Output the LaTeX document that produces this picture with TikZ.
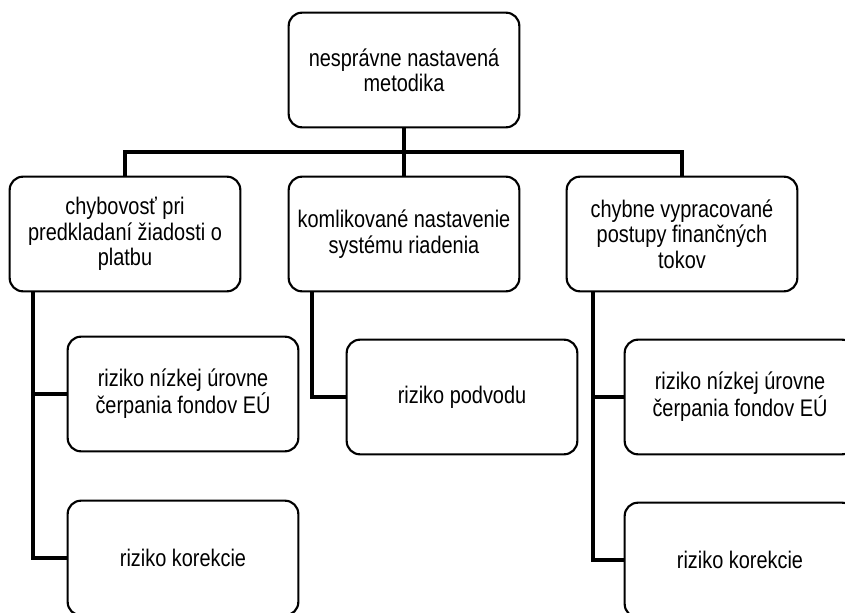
\documentclass[tikz,border=0pt]{standalone}
\usepackage{fontspec}
\setmainfont{Liberation Sans}[FakeStretch=0.83]
\usepackage{tikz}
\usetikzlibrary{calc}

\begin{document}
\begin{tikzpicture}[x=0.75pt,y=-0.75pt,
  uzol/.style={draw,line width=1.6pt,rounded corners=10pt,align=center,
    minimum width=173pt,minimum height=86pt,inner sep=0pt,
    font=\fontsize{18}{19}\selectfont},
  spoj/.style={line width=2.8pt,line cap=rect}]
  \clip (0,0) rectangle (845,613);
  \node[uzol] (metodika) at (404,70) {nesprávne nastavená\\metodika};
  \node[uzol] (chybovost) at (125,234) {chybovosť pri\\predkladaní žiadosti o\\platbu};
  \node[uzol] (riadenie) at (404,234) {komlikované nastavenie\\systému riadenia};
  \node[uzol] (postupy) at (682,234) {chybne vypracované\\postupy finančných\\tokov};
  \node[uzol] (cerpanieA) at (183,394) {riziko nízkej úrovne\\čerpania fondov EÚ};
  \node[uzol] (korekciaA) at (183,558) {riziko korekcie};
  \node[uzol] (podvod) at (462,397) {riziko podvodu};
  \node[uzol] (cerpanieB) at (740,397) {riziko nízkej úrovne\\čerpania fondov EÚ};
  \node[uzol] (korekciaB) at (740,560) {riziko korekcie};
  \coordinate (lista) at (404,152);
  \draw[spoj] (metodika.south) -- (lista);
  \draw[spoj] (chybovost.north) |- (lista) -| (postupy.north);
  \draw[spoj] (lista) -- (riadenie.north);
  \draw[spoj] ([xshift=-69pt]chybovost.south) |- (cerpanieA.west);
  \draw[spoj] ([xshift=-69pt]chybovost.south) |- (korekciaA.west);
  \draw[spoj] ([xshift=-69pt]riadenie.south) |- (podvod.west);
  \draw[spoj] ([xshift=-67pt]postupy.south) |- (cerpanieB.west);
  \draw[spoj] ([xshift=-67pt]postupy.south) |- (korekciaB.west);
\end{tikzpicture}
\end{document}
